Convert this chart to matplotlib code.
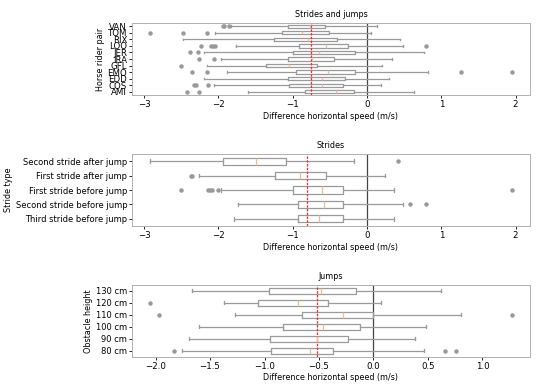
import matplotlib
matplotlib.use("Agg")
import matplotlib.pyplot as plt

# ---- data (bottom row first) ----
pairs = ["AMI", "COS", "EDD", "EMO", "GFL", "IRA", "JER", "LOO", "RIX", "TOM", "VAN"]
pair_whislo = [-1.60, -2.06, -2.19, -1.88, -2.15, -1.97, -2.19, -1.77, -2.48, -2.04, -1.83]
pair_q1 = [-0.84, -1.05, -1.06, -0.95, -1.36, -1.06, -1.00, -0.92, -1.25, -1.15, -1.07]
pair_med = [-0.42, -0.61, -0.61, -0.53, -1.05, -0.74, -0.65, -0.55, -0.80, -0.87, -0.77]
pair_q3 = [-0.18, -0.33, -0.29, -0.16, -0.67, -0.44, -0.16, -0.25, -0.40, -0.51, -0.56]
pair_whishi = [0.63, 0.19, 0.29, 0.82, 0.20, 0.34, 0.77, 0.49, 0.45, 0.06, 0.13]
pair_fliers = [
    [-2.42, -2.26],
    [-2.33, -2.30, -2.14],
    [],
    [-2.35, -2.16, 1.27, 1.95],
    [-2.50],
    [-2.26, -2.06],
    [-2.38, -2.27],
    [-2.24, -2.10, -2.07, -2.04, 0.80],
    [],
    [-2.92, -2.48, -2.15],
    [-1.94, -1.92, -1.86],
]
pair_mean = -0.76

strides = ["Third stride before jump", "Second stride before jump", "First stride before jump",
           "First stride after jump", "Second stride after jump"]
stride_whislo = [-1.79, -1.73, -1.97, -2.26, -2.92]
stride_q1 = [-0.93, -0.93, -0.99, -1.24, -1.94]
stride_med = [-0.65, -0.58, -0.61, -0.90, -1.49]
stride_q3 = [-0.33, -0.33, -0.33, -0.55, -1.09]
stride_whishi = [0.36, 0.48, 0.36, 0.24, -0.17]
stride_fliers = [
    [],
    [0.58, 0.80],
    [-2.50, -2.14, -2.11, -2.08, -2.00, 1.95],
    [-2.37, -2.35],
    [0.42],
]
stride_mean = -0.81

heights = ["80 cm", "90 cm", "100 cm", "110 cm", "120 cm", "130 cm"]
jump_whislo = [-1.76, -1.69, -1.60, -1.27, -1.37, -1.67]
jump_q1 = [-0.94, -0.95, -0.83, -0.66, -1.06, -0.96]
jump_med = [-0.58, -0.52, -0.46, -0.28, -0.69, -0.48]
jump_q3 = [-0.37, -0.23, -0.12, 0.0, -0.42, -0.16]
jump_whishi = [0.46, 0.38, 0.48, 0.80, 0.07, 0.62]
jump_fliers = [
    [-1.83, 0.66, 0.76],
    [],
    [],
    [-1.97, 1.27],
    [-2.05],
    [],
]
jump_mean = -0.52

plt.rcParams["font.family"] = "DejaVu Sans"
fig = plt.figure(figsize=(5.5, 3.87), dpi=100)

grey = "#9a9a9a"
box_kw = dict(
    vert=False,
    boxprops=dict(color=grey, linewidth=0.9),
    whiskerprops=dict(color=grey, linewidth=0.9),
    capprops=dict(color=grey, linewidth=0.9),
    medianprops=dict(color="#f6b98f", linewidth=0.9),
    flierprops=dict(marker="o", markersize=2.2, markerfacecolor=grey,
                    markeredgecolor=grey, linestyle="none"),
)


def make_stats(labels, lo, q1, med, q3, hi, fl):
    stats = []
    for i in range(len(labels)):
        stats.append(dict(label=labels[i], whislo=lo[i], q1=q1[i], med=med[i],
                          q3=q3[i], whishi=hi[i], fliers=fl[i]))
    return stats


def panel(rect, stats, mean, title, ylabel, ytick_size):
    ax = fig.add_axes(rect)
    ax.bxp(stats, **box_kw)
    ax.axvline(0, color="#444444", linewidth=0.9, zorder=0)
    ax.axvline(mean, color="#e8352b", linewidth=0.9, linestyle=(0, (2, 1)))
    ax.set_title(title, fontsize=5.8, pad=4)
    ax.set_xlabel("Difference horizontal speed (m/s)", fontsize=5.8, labelpad=2)
    ax.set_ylabel(ylabel, fontsize=5.8, labelpad=2)
    ax.tick_params(axis="x", labelsize=6.2, width=0.6, length=2, pad=1.5)
    ax.tick_params(axis="y", labelsize=ytick_size, width=0.6, length=2, pad=1.5)
    for s in ax.spines.values():
        s.set_color("#b0b0b0")
        s.set_linewidth(0.7)
    return ax


panel([0.24, 0.7545, 0.7236, 0.186],
      make_stats(pairs, pair_whislo, pair_q1, pair_med, pair_q3, pair_whishi, pair_fliers),
      pair_mean, "Strides and jumps", "Horse rider pair", 6.2)
panel([0.24, 0.416, 0.7236, 0.186],
      make_stats(strides, stride_whislo, stride_q1, stride_med, stride_q3, stride_whishi, stride_fliers),
      stride_mean, "Strides", "Stride type", 6.0)
panel([0.24, 0.078, 0.7236, 0.186],
      make_stats(heights, jump_whislo, jump_q1, jump_med, jump_q3, jump_whishi, jump_fliers),
      jump_mean, "Jumps", "Obstacle height", 6.0)

fig.savefig("out.png", dpi=100)
